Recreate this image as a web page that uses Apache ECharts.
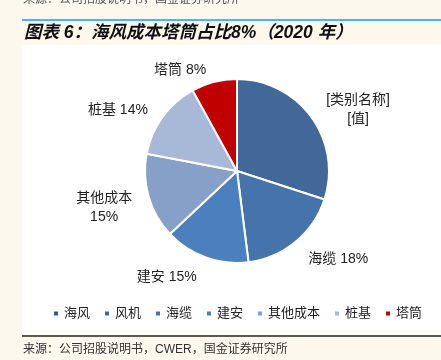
<!DOCTYPE html>
<html><head><meta charset="utf-8">
<script src="https://cdn.jsdelivr.net/npm/echarts@6/dist/echarts.min.js"></script>
<style>html,body{margin:0;padding:0;background:#FCF8EE;}#c{width:441px;height:360px;}</style>
</head><body><div id="c"></div>
<script>
var categories = ['海风','风机','海缆','建安','其他成本','桩基','塔筒'];
var values = [0, 30, 18, 15, 15, 14, 8];
var colors = ['#3A5A86','#416898','#4573AB','#4B7FBE','#87A0C8','#A8B8D7','#C00000'];
var labelTexts = ['', '{t|[类别名称]}\n{t|[值]}', '{t|海缆 18%}', '{t|建安 15%}', '{t|其他成本}\n{t|15%}', '{t|桩基 14%}', '{t|塔筒 8%}'];

var chart = echarts.init(document.getElementById('c'));
var data = categories.map(function(n,i){
  return {name:n, value:values[i], itemStyle:{color:colors[i]},
    label:{show: values[i] > 0, formatter: labelTexts[i]}};
});
var cjk = '"Liberation Sans","Noto Sans CJK SC",sans-serif';
var pieCenter = [237,171];
chart.setOption({
  backgroundColor:'#FCF8EE',
  animation:false,
  graphic:[
    {type:'rect', shape:{x:22,y:45,width:419,height:290}, style:{fill:'#ffffff'}, z:-10},
    {type:'rect', shape:{x:22,y:19,width:419,height:2}, style:{fill:'#4FB4E6'}, z:-5},
    {type:'rect', shape:{x:22,y:335,width:419,height:2}, style:{fill:'#5A5A55'}, z:-5},
    {type:'text', left:23, top:-8, style:{text:'来源：公司招股说明书，国金证券研究所', font:'12px "Noto Sans CJK SC"', fill:'#555'}},
    {type:'text', left:24, top:24, style:{text:'图表 6：海风成本塔筒占比8%（2020 年）', font:'italic bold 17.5px "Liberation Sans","Noto Sans CJK SC"', fill:'#111'}},
    {type:'text', left:23, top:344, style:{text:'来源：公司招股说明书，CWER，国金证券研究所', font:'12px "Liberation Sans","Noto Sans CJK SC"', fill:'#333'}}
  ],
  legend:{
    data:categories, top:302, left:47, icon:'rect', itemWidth:6, itemHeight:6, itemGap:13,
    textStyle:{fontSize:13, color:'#222', fontFamily:cjk}
  },
  series:[{
    type:'pie', center:pieCenter, radius:[0,92], startAngle:90, clockwise:true,
    data:data,
    itemStyle:{borderColor:'#fff', borderWidth:2},
    label:{position:'outside', fontSize:14, color:'#222', fontFamily:cjk, lineHeight:19,
      rich:{t:{fontSize:14, color:'#222', fontFamily:cjk, lineHeight:19, align:'center'}}},
    labelLine:{show:false, length:12, length2:0},
    labelLayout:function(p){
      var cy = p.labelRect.y + p.labelRect.height/2;
      return cy > pieCenter[1] ? {dy:8} : {};
    },
    emphasis:{disabled:true}
  }]
});
</script></body></html>
